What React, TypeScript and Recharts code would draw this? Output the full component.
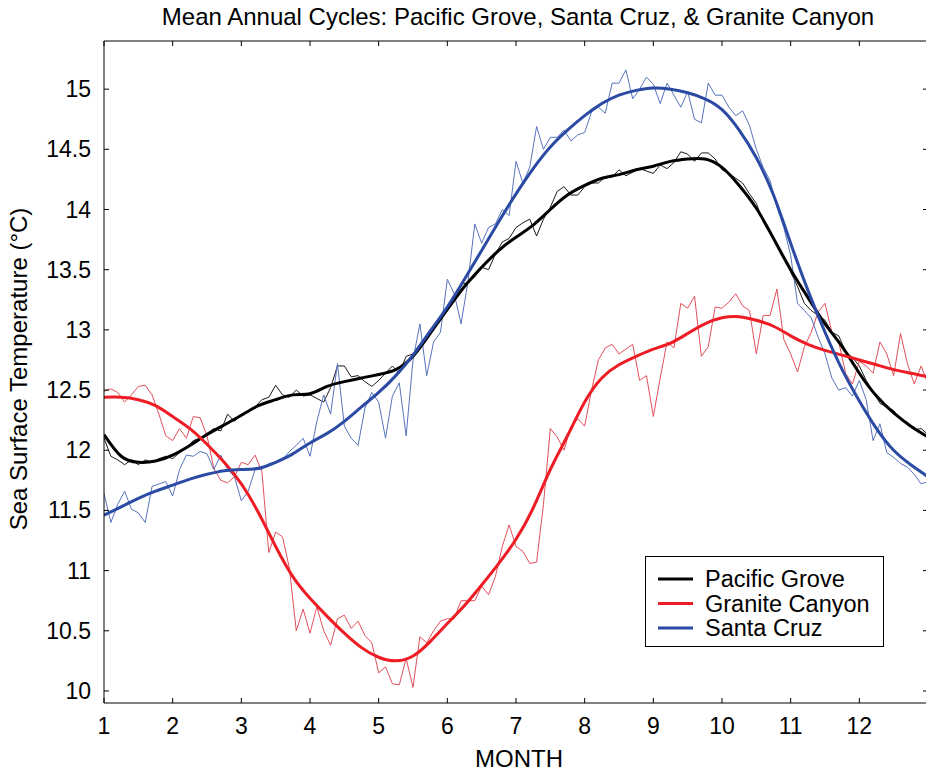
import React from 'react';
import { LineChart, Line, XAxis, YAxis } from 'recharts';

// axis ticks
const months = [1, 2, 3, 4, 5, 6, 7, 8, 9, 10, 11, 12];
const tempTicks = [10, 10.5, 11, 11.5, 12, 12.5, 13, 13.5, 14, 14.5, 15];

// smoothed annual cycle, every quarter month from 1 to 13
const smoothMonths = [
  1, 1.25, 1.5, 1.75, 2, 2.25, 2.5, 2.75, 3, 3.25, 3.5, 3.75, 4,
  4.25, 4.5, 4.75, 5, 5.25, 5.5, 5.75, 6, 6.25, 6.5, 6.75, 7,
  7.25, 7.5, 7.75, 8, 8.25, 8.5, 8.75, 9, 9.25, 9.5, 9.75, 10,
  10.25, 10.5, 10.75, 11, 11.25, 11.5, 11.75, 12, 12.25, 12.5, 12.75, 13,
];
const pacificGroveMean = [
  12.13, 11.95, 11.9, 11.91, 11.96, 12.04, 12.13, 12.21, 12.29, 12.37, 12.42, 12.46, 12.47,
  12.53, 12.57, 12.6, 12.63, 12.67, 12.78, 12.97, 13.17, 13.36, 13.52, 13.66, 13.77,
  13.87, 14.0, 14.12, 14.2, 14.26, 14.29, 14.33, 14.36, 14.4, 14.42, 14.42, 14.35,
  14.2, 14.01, 13.76, 13.5, 13.27, 13.05, 12.86, 12.64, 12.45, 12.31, 12.2, 12.11,
];
const graniteCanyonMean = [
  12.44, 12.44, 12.42, 12.37, 12.28, 12.18, 12.05, 11.9, 11.72, 11.48, 11.2, 10.95, 10.77,
  10.62, 10.48, 10.36, 10.28, 10.25, 10.29, 10.41, 10.56, 10.71, 10.88, 11.06, 11.26,
  11.52, 11.84, 12.12, 12.4, 12.6, 12.71, 12.78, 12.84, 12.89, 12.97, 13.05, 13.1,
  13.11, 13.08, 13.03, 12.95, 12.88, 12.83, 12.79, 12.75, 12.71, 12.67, 12.64, 12.61,
];
const santaCruzMean = [
  11.46, 11.53, 11.6, 11.66, 11.71, 11.76, 11.8, 11.83, 11.84, 11.85, 11.9, 11.97, 12.06,
  12.14, 12.24, 12.36, 12.48, 12.62, 12.79, 12.99, 13.19, 13.42, 13.66, 13.9, 14.13,
  14.34, 14.52, 14.66, 14.78, 14.88, 14.95, 14.99, 15.01, 15.0, 14.97, 14.92, 14.83,
  14.66, 14.43, 14.12, 13.72, 13.33, 12.98, 12.67, 12.41, 12.18, 12.0, 11.88, 11.78,
];

// daily climatology, read every tenth of a month
const dailyMonths = Array.from({ length: 121 }, (_, i) => 1 + i / 10);
const pacificGroveDaily = [
  12.1, 11.95, 11.92, 11.88, 11.92, 11.88, 11.92, 11.9, 11.93, 11.95,
  11.93, 11.98, 12.02, 12.08, 12.1, 12.14, 12.18, 12.16, 12.3, 12.24,
  12.3, 12.32, 12.36, 12.42, 12.44, 12.54, 12.46, 12.44, 12.5, 12.45,
  12.46, 12.43, 12.4, 12.52, 12.7, 12.7, 12.61, 12.62, 12.57, 12.53,
  12.58, 12.64, 12.7, 12.64, 12.78, 12.8, 12.88, 12.92, 13.02, 13.1,
  13.17, 13.28, 13.38, 13.39, 13.44, 13.52, 13.5, 13.63, 13.73, 13.76,
  13.85, 13.89, 13.92, 13.78, 13.92, 14.02, 14.15, 14.19, 14.12, 14.12,
  14.19, 14.22, 14.22, 14.27, 14.27, 14.33, 14.28, 14.31, 14.34, 14.32,
  14.3, 14.37, 14.34, 14.39, 14.48, 14.46, 14.4, 14.47, 14.47, 14.42,
  14.33, 14.3, 14.26, 14.22, 14.13, 14.05, 13.9, 13.8, 13.7, 13.6,
  13.48, 13.36, 13.22, 13.16, 13.12, 13.08, 12.98, 12.95, 12.82, 12.77,
  12.7, 12.58, 12.49, 12.39, 12.36, 12.33, 12.26, 12.23, 12.17, 12.18,
  12.13,
];
const graniteCanyonDaily = [
  12.49, 12.51, 12.48, 12.4, 12.46, 12.53, 12.54, 12.46, 12.3, 12.12,
  12.08, 12.18, 12.1, 12.28, 12.27, 12.12, 11.85, 11.75, 11.73, 11.78,
  11.9, 11.88, 11.96, 11.82, 11.15, 11.32, 11.28, 11.02, 10.5, 10.68,
  10.48, 10.7, 10.5, 10.38, 10.6, 10.63, 10.52, 10.58, 10.46, 10.4,
  10.15, 10.2, 10.06, 10.05, 10.27, 10.03, 10.45, 10.4, 10.5, 10.58,
  10.6, 10.6, 10.75, 10.75, 10.75, 10.87, 10.8, 10.95, 11.2, 11.38,
  11.2, 11.16, 11.06, 11.07, 11.55, 12.18, 12.11, 12.0, 12.2, 12.26,
  12.2, 12.5, 12.75, 12.85, 12.88, 12.8, 12.84, 12.88, 12.58, 12.62,
  12.28, 12.6, 12.9, 12.85, 13.22, 13.18, 13.28, 12.78, 12.86, 13.19,
  13.18, 13.23, 13.3, 13.2, 13.16, 12.8, 13.12, 13.12, 13.34, 12.92,
  12.8, 12.65, 12.86, 12.98, 13.15, 13.22, 12.98, 12.9, 12.64, 12.55,
  12.74, 12.7, 12.64, 12.9, 12.8, 12.62, 12.97, 12.72, 12.55, 12.7,
  12.55,
];
const santaCruzDaily = [
  11.64, 11.4, 11.55, 11.66, 11.51, 11.48, 11.4, 11.7, 11.72, 11.74,
  11.62, 11.84, 11.96, 11.95, 11.99, 11.97, 11.84, 11.96, 11.84, 11.78,
  11.58, 11.66, 11.84, 11.84, 11.89, 11.9, 11.92, 11.99, 12.04, 12.1,
  11.95, 12.24, 12.46, 12.3, 12.72, 12.2, 12.1, 12.04, 12.35, 12.48,
  12.4, 12.1, 12.45, 12.56, 12.12, 12.75, 13.05, 12.62, 12.9, 12.98,
  13.42, 13.3, 13.05, 13.4, 13.88, 13.72, 13.85, 13.88, 14.0, 13.95,
  14.4, 14.22, 14.35, 14.69, 14.5, 14.6, 14.6, 14.66, 14.57, 14.62,
  14.64, 14.81, 14.85, 14.8, 15.05, 15.05, 15.16, 14.92, 15.0, 15.1,
  15.04, 14.88, 15.05, 14.95, 14.85, 14.98, 14.75, 14.72, 15.05, 14.95,
  14.95, 14.85, 14.78, 14.82, 14.7, 14.5, 14.35, 14.24, 14.02, 13.85,
  13.62, 13.22, 13.16, 13.1, 12.94, 12.8, 12.6, 12.5, 12.52, 12.45,
  12.58, 12.42, 12.08, 12.22, 11.98, 11.94, 11.89, 11.86, 11.8, 11.72,
  11.74,
];

const toRows = (xs: number[], ys: number[]) => xs.map((m, i) => ({ m, v: ys[i] }));

const series = [
  { name: 'Pacific Grove', color: '#000000', daily: '#1a1a1a', mean: pacificGroveMean, raw: pacificGroveDaily },
  { name: 'Granite Canyon', color: '#ee1c25', daily: '#e2505a', mean: graniteCanyonMean, raw: graniteCanyonDaily },
  { name: 'Santa Cruz', color: '#2b4aa3', daily: '#5673bd', mean: santaCruzMean, raw: santaCruzDaily },
];

const FONT = '"Liberation Sans", Arial, Helvetica, sans-serif';

const BottomTick = ({ x, y, payload }: any) => (
  <g>
    <line x1={x} x2={x} y1={y} y2={y - 5} stroke="#000" />
    <text x={x} y={y + 31} textAnchor="middle" fontSize={23} fontFamily={FONT} fill="#000">
      {payload.value}
    </text>
  </g>
);

const TopTick = ({ x, y }: any) => <line x1={x} x2={x} y1={y} y2={y + 5} stroke="#000" />;

const LeftTick = ({ x, y, payload }: any) => (
  <g>
    <line x1={x} x2={x + 5} y1={y} y2={y} stroke="#000" />
    <text x={x - 13} y={y + 8} textAnchor="end" fontSize={23} fontFamily={FONT} fill="#000">
      {payload.value}
    </text>
  </g>
);

const RightTick = ({ x, y }: any) => <line x1={x} x2={x - 5} y1={y} y2={y} stroke="#000" />;

export default function App() {
  return (
    <div style={{ position: 'absolute', left: 0, top: 0, width: 926, height: 772, overflow: 'hidden', background: '#fff' }}>
      <LineChart width={940} height={772} margin={{ top: 11, right: 0, bottom: 0, left: 0 }}>
        <XAxis
          dataKey="m"
          type="number"
          domain={[1, 13]}
          ticks={months}
          interval={0}
          height={69}
          tickSize={0}
          tickMargin={0}
          tickLine={false}
          axisLine={{ stroke: '#000' }}
          tick={<BottomTick />}
          allowDataOverflow
        />
        <XAxis
          xAxisId="top"
          orientation="top"
          dataKey="m"
          type="number"
          domain={[1, 13]}
          ticks={months}
          interval={0}
          height={30}
          tickSize={0}
          tickMargin={0}
          tickLine={false}
          axisLine={{ stroke: '#000' }}
          tick={<TopTick />}
          allowDataOverflow
        />
        <YAxis
          type="number"
          domain={[9.9, 15.4]}
          ticks={tempTicks}
          interval={0}
          width={104}
          tickSize={0}
          tickMargin={0}
          tickLine={false}
          axisLine={{ stroke: '#000' }}
          tick={<LeftTick />}
          allowDataOverflow
        />
        <YAxis
          yAxisId="right"
          orientation="right"
          type="number"
          domain={[9.9, 15.4]}
          ticks={tempTicks}
          interval={0}
          width={12}
          tickSize={0}
          tickMargin={0}
          tickLine={false}
          axisLine={{ stroke: '#000' }}
          tick={<RightTick />}
          allowDataOverflow
        />
        {series.map((s) => (
          <Line
            key={s.name + '-daily'}
            data={toRows(dailyMonths, s.raw)}
            dataKey="v"
            type="linear"
            stroke={s.daily}
            strokeWidth={1}
            dot={false}
            activeDot={false}
            legendType="none"
            isAnimationActive={false}
          />
        ))}
        {series.map((s) => (
          <Line
            key={s.name + '-mean'}
            data={toRows(smoothMonths, s.mean)}
            dataKey="v"
            name={s.name}
            type="natural"
            stroke={s.color}
            strokeWidth={3}
            dot={false}
            activeDot={false}
            isAnimationActive={false}
          />
        ))}
      </LineChart>
      <svg
        width={926}
        height={772}
        style={{ position: 'absolute', left: 0, top: 0, pointerEvents: 'none' }}
        fontFamily={FONT}
      >
        <text x={518} y={25} textAnchor="middle" fontSize={24} fill="#000">
          Mean Annual Cycles: Pacific Grove, Santa Cruz, &amp; Granite Canyon
        </text>
        <text x={27} y={369} textAnchor="middle" fontSize={24} fill="#000" transform="rotate(-90 27 369)">
          Sea Surface Temperature (°C)
        </text>
        <text x={519} y={767} textAnchor="middle" fontSize={24} fill="#000">
          MONTH
        </text>
        <rect x={645.5} y={556.5} width={238} height={90} fill="#fff" stroke="#000" />
        {series.map((s, i) => (
          <g key={s.name}>
            <line x1={658} x2={693} y1={579 + i * 24.5} y2={579 + i * 24.5} stroke={s.color} strokeWidth={3} />
            <text x={705} y={587 + i * 24.5} fontSize={23.5} fill="#000">
              {s.name}
            </text>
          </g>
        ))}
      </svg>
    </div>
  );
}
